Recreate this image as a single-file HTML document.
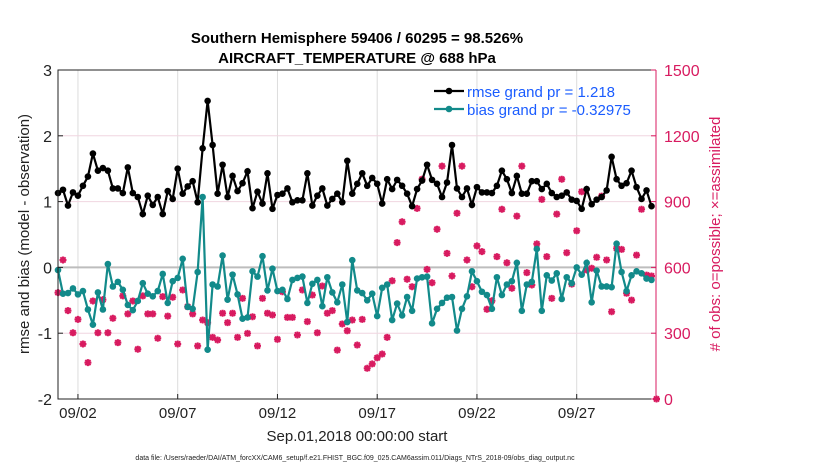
<!DOCTYPE html>
<html><head><meta charset="utf-8"><style>
body{margin:0;background:#fff;}
svg text{font-family:"Liberation Sans",sans-serif;}
</style></head><body>
<svg id="c" width="830" height="470" xmlns="http://www.w3.org/2000/svg"></svg>
<script>
const rmse=[1.13,1.18,0.94,1.14,1.09,1.24,1.38,1.73,1.47,1.51,1.47,1.20,1.20,1.13,1.52,1.13,1.07,0.81,1.09,0.95,1.07,0.81,1.16,1.04,1.50,1.12,1.23,1.31,0.99,1.81,2.53,1.86,1.12,1.56,1.07,1.39,1.16,1.28,1.46,0.90,1.15,0.97,1.43,0.89,1.10,1.12,1.20,0.99,1.02,1.02,1.43,0.94,1.09,1.20,0.94,1.04,1.12,0.99,1.62,1.12,1.27,
1.43,1.24,1.36,1.27,0.97,1.34,1.19,1.33,1.24,1.12,0.93,1.19,1.32,1.56,1.33,1.27,1.07,1.29,1.86,1.20,1.07,1.20,0.95,1.22,1.14,1.14,1.13,1.24,1.47,1.34,1.13,1.39,1.12,1.12,1.31,1.31,1.19,1.27,1.13,1.07,1.09,1.14,1.03,1.01,0.89,1.19,0.96,1.03,1.07,1.17,1.68,1.34,1.24,1.28,1.47,1.22,1.04,1.17,0.93];
const bias=[-0.04,-0.40,-0.39,-0.32,-0.41,-0.36,-0.64,-0.87,-0.38,-0.64,0.05,-0.29,-0.22,-0.34,-0.57,-0.65,-0.51,-0.24,-0.40,-0.44,-0.36,-0.10,-0.54,-0.21,-0.16,0.13,-0.60,-0.63,-0.07,1.07,-1.25,-0.26,-0.29,0.18,-0.49,-0.11,-0.41,-0.78,-0.76,-0.06,-0.14,0.17,-0.35,-0.02,-0.36,-0.34,-0.48,-0.19,-0.16,-0.14,-0.54,-0.25,-0.19,-0.59,-0.15,-0.38,-0.53,-0.26,-0.83,0.11,-0.35,
-0.39,-0.50,-0.40,-0.74,-0.31,-0.26,-0.80,-0.55,-0.73,-0.45,-0.66,-0.17,-0.15,-0.14,-0.85,-0.63,-0.54,-0.46,-0.45,-0.96,-0.63,-0.44,-0.06,-0.21,-0.37,-0.42,-0.63,-0.15,-0.42,-0.26,-0.21,0.07,-0.66,-0.26,-0.22,0.28,-0.66,-0.12,-0.20,-0.09,-0.48,-0.15,-0.24,0.0,-0.11,0.07,-0.53,-0.05,-0.29,-0.29,-0.30,0.36,-0.07,-0.36,-0.12,-0.06,-0.09,-0.17,-0.19];
const assimilated=[485,634,403,302,363,251,166,447,302,453,302,368,257,470,388,447,227,470,388,388,277,467,378,464,251,497,421,388,242,360,348,281,269,391,348,391,281,459,299,375,242,459,391,383,272,489,372,372,292,497,353,474,302,515,391,403,223,342,311,360,
246,363,140,160,188,205,281,539,713,808,546,512,869,1002,591,530,774,1062,664,561,847,1062,634,512,698,672,409,448,649,865,621,505,834,1062,576,520,707,910,649,459,843,1002,667,524,767,945,588,596,646,925,634,398,687,682,482,451,656,865,565,561,0];
const possible=assimilated.slice();
const xTicks=[1,6,11,16,21,26];
const xTickLabels=["09/02","09/07","09/12","09/17","09/22","09/27"];
const yTicks=[3,2,1,0,-1,-2];
const rTicks=[1500,1200,900,600,300,0];

const NS="http://www.w3.org/2000/svg",svg=document.getElementById('c');
const L=58,R=656,T=70,B=399;
const X=d=>L+d*19.95, Y=v=>T+(3-v)*(B-T)/5, YR=v=>B-v*(B-T)/1500, XI=i=>X(i*0.25);
function mk(t,a,p){const e=document.createElementNS(NS,t);for(const k in a)e.setAttribute(k,a[k]);(p||svg).appendChild(e);return e;}
function tx(s,a){const e=mk('text',a);e.textContent=s;return e;}

let g=mk('g',{});
xTicks.forEach(d=>{mk('line',{x1:X(d),x2:X(d),y1:T,y2:B,stroke:'#dcdcdc','stroke-width':1},g);});
yTicks.forEach(v=>{if(v!==0&&v!==3&&v!==-2)mk('line',{x1:L,x2:R,y1:Y(v),y2:Y(v),stroke:'#f0d6e0','stroke-width':1},g);});
mk('line',{x1:L,x2:R,y1:Y(0),y2:Y(0),stroke:'#bdbdbd','stroke-width':2},g);

let og=mk('g',{});
possible.forEach((v,i)=>{const c=mk('circle',{cx:XI(i),cy:YR(v),r:2,fill:'none',stroke:'#d81b60','stroke-width':1.2},og);
 });
assimilated.forEach((v,i)=>{const x=XI(i),y=YR(v);
 const m=mk('path',{d:`M${x-3.5},${y}H${x+3.5}M${x},${y-3.5}V${y+3.5}M${x-2.6},${y-2.6}L${x+2.6},${y+2.6}M${x-2.6},${y+2.6}L${x+2.6},${y-2.6}`,stroke:'#d81b60','stroke-width':2},og);
 });

function series(arr,col,name){const sg=mk('g',{});
 mk('polyline',{points:arr.map((v,i)=>XI(i)+','+Y(v)).join(' '),fill:'none',stroke:col,'stroke-width':2.2},sg);
 arr.forEach((v,i)=>{const c=mk('circle',{cx:XI(i),cy:Y(v),r:3.3,fill:col},sg);});}
series(bias,'#128a8a','bias-series');
series(rmse,'#000','rmse-series');

let ax=mk('g',{});
mk('path',{d:`M${R},${T}H${L}V${B}H${R}`,fill:'none',stroke:'#222','stroke-width':1},ax);
mk('line',{x1:R,x2:R,y1:T,y2:B,stroke:'#d81b60','stroke-width':1},ax);
yTicks.forEach(v=>{mk('line',{x1:L,x2:L+5,y1:Y(v),y2:Y(v),stroke:'#222'},ax);
 const t=tx(String(v),{x:L-6,y:Y(v)+6,'text-anchor':'end','font-size':16,fill:'#222'});});
rTicks.forEach(v=>{mk('line',{x1:R-5,x2:R,y1:YR(v),y2:YR(v),stroke:'#d81b60'},ax);
 const t=tx(String(v),{x:R+8,y:YR(v)+6,'font-size':16,fill:'#d81b60'});});
xTicks.forEach((d,i)=>{mk('line',{x1:X(d),x2:X(d),y1:B,y2:B-5,stroke:'#222'},ax);
 const t=tx(xTickLabels[i],{x:X(d),y:B+19,'text-anchor':'middle','font-size':15,fill:'#222'});});
</script>
<svg width="830" height="470" style="position:absolute;left:0;top:0" xmlns="http://www.w3.org/2000/svg">
<text x="357" y="43" text-anchor="middle" font-size="15" font-weight="bold" font-family="Liberation Sans">Southern Hemisphere 59406 / 60295 = 98.526%</text>
<text x="357" y="63" text-anchor="middle" font-size="15" font-weight="bold" font-family="Liberation Sans">AIRCRAFT_TEMPERATURE @ 688 hPa</text>
<text transform="translate(29,234) rotate(-90)" text-anchor="middle" font-size="15" fill="#222" font-family="Liberation Sans">rmse and bias (model - observation)</text>
<text transform="translate(720,234) rotate(-90)" text-anchor="middle" font-size="15" fill="#d81b60" font-family="Liberation Sans"># of obs: o=possible; ×=assimilated</text>
<text x="357" y="441" text-anchor="middle" font-size="15" fill="#222" font-family="Liberation Sans">Sep.01,2018 00:00:00 start</text>
<text x="355" y="460" text-anchor="middle" font-size="7" fill="#222" font-family="Liberation Sans">data file: /Users/raeder/DAI/ATM_forcXX/CAM6_setup/f.e21.FHIST_BGC.f09_025.CAM6assim.011/Diags_NTrS_2018-09/obs_diag_output.nc</text>
<g>
<g><line x1="434" x2="464" y1="91" y2="91" stroke="#000" stroke-width="2.2"/><circle cx="449" cy="91" r="3.3" fill="#000"/><text x="467" y="97" font-size="15" fill="#1a5cff" font-family="Liberation Sans">rmse grand pr = 1.218</text></g>
<g><line x1="434" x2="464" y1="109" y2="109" stroke="#128a8a" stroke-width="2.2"/><circle cx="449" cy="109" r="3.3" fill="#128a8a"/><text x="467" y="115" font-size="15" fill="#1a5cff" font-family="Liberation Sans">bias grand pr = -0.32975</text></g>
</g>
</svg>
</body></html>
